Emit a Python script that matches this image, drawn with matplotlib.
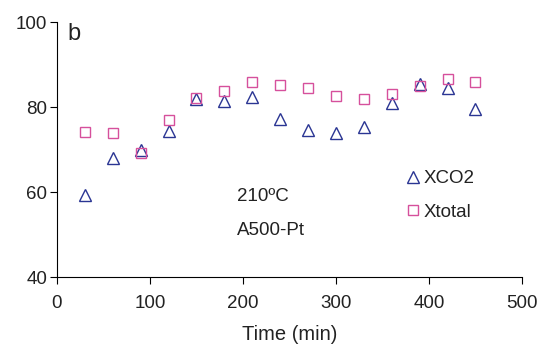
import numpy as np
import matplotlib
matplotlib.use("Agg")
import matplotlib.pyplot as plt

plt.rcParams['font.family'] = ['Liberation Sans', 'DejaVu Sans']

time_min = [30, 60, 90, 120, 150, 180, 210, 240, 270, 300, 330, 360, 390, 420, 450]
xco2 = [59.3, 67.9, 69.8, 74.4, 81.8, 81.4, 82.3, 77.3, 74.6, 74.0, 75.4, 80.9, 85.5, 84.5, 79.6]
xtotal = [74.2, 74.0, 69.2, 77.0, 82.1, 83.8, 86.0, 85.1, 84.5, 82.5, 81.9, 83.1, 84.9, 86.6, 86.0]

blue = '#2a3593'
pink = '#d6509c'
txt = '#222222'

fig = plt.figure(figsize=(5.37, 3.45), dpi=100)
ax = fig.add_axes([0.106, 0.197, 0.866, 0.739])

ax.plot(time_min, xco2, linestyle='none', marker='^', markersize=8,
        markerfacecolor='none', markeredgecolor=blue, markeredgewidth=1.0, label='XCO2')
ax.plot(time_min, xtotal, linestyle='none', marker='s', markersize=7,
        markerfacecolor='none', markeredgecolor=pink, markeredgewidth=1.0, label='Xtotal')

ax.set_xlim(0, 500)
ax.set_ylim(40, 100)
ax.set_xticks([0, 100, 200, 300, 400, 500])
ax.set_yticks([40, 60, 80, 100])
ax.spines['top'].set_visible(False)
ax.spines['right'].set_visible(False)
ax.tick_params(direction='out', length=5, labelsize=13.5, labelcolor=txt)
ax.tick_params(axis='x', pad=8)
ax.tick_params(axis='y', pad=2)
ax.set_xlabel('Time (min)', fontsize=14.5, color=txt, labelpad=9)

ax.text(10.8, 97.1, 'b', fontsize=17, va='center', ha='left', color=txt)
ax.text(193.5, 59.0, '210ºC', fontsize=13.5, va='center', ha='left', color=txt)
ax.text(193.5, 50.9, 'A500-Pt', fontsize=13.5, va='center', ha='left', color=txt)

leg = ax.legend(loc='center left', bbox_to_anchor=(0.733, 0.32), frameon=False, fontsize=13.5,
                handlelength=0.8, handletextpad=0.15, labelspacing=0.85, borderaxespad=0)
for t in leg.get_texts():
    t.set_color(txt)

fig.savefig('out.png', dpi=100)
